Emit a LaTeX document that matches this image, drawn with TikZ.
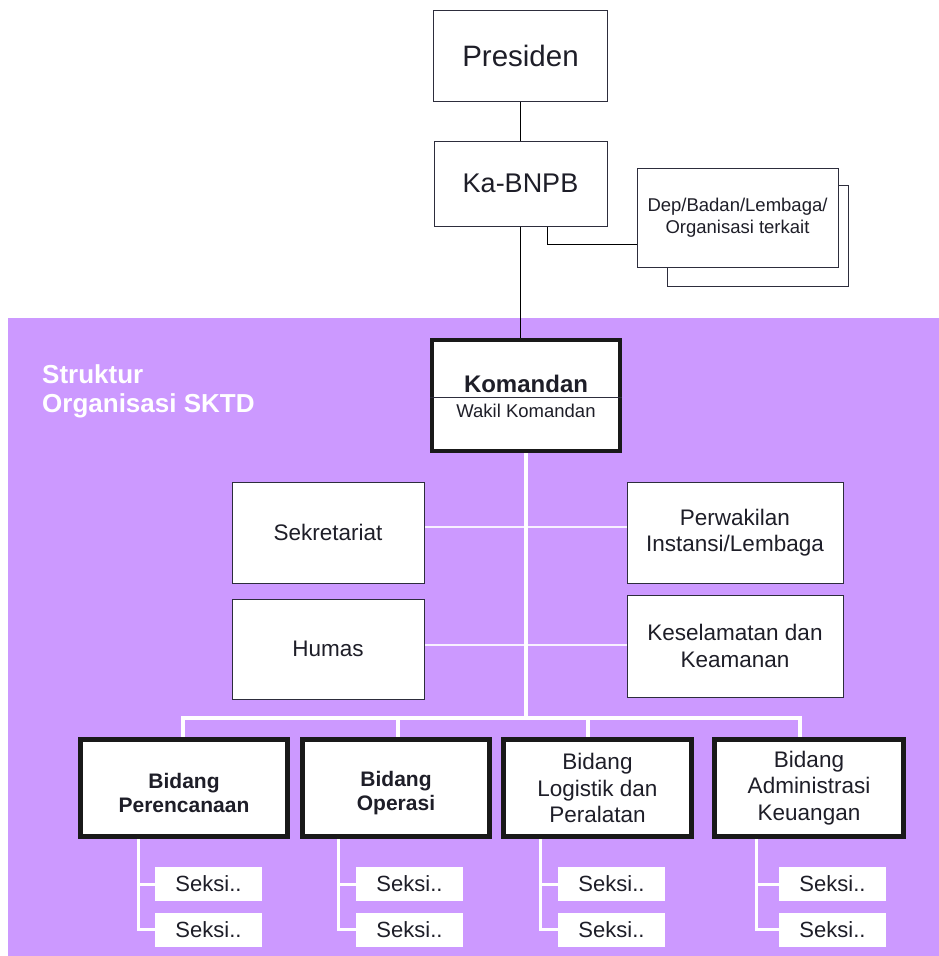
\documentclass[tikz,border=0pt]{standalone}
\usepackage{fontspec}
\setmainfont{Liberation Sans}
\usetikzlibrary{backgrounds}

\definecolor{lilac}{RGB}{204,153,255}
\definecolor{ink}{RGB}{30,30,40}
\definecolor{edge}{RGB}{45,45,60}

\begin{document}
\begin{tikzpicture}[x=1pt, y=-1pt,
  box/.style={draw=edge, line width=1pt, fill=white, align=center, inner sep=0pt, text=ink, font=\fontsize{22.5}{26.5}\selectfont},
  heavybox/.style={box, draw=black!90, line width=5pt},
  seksi/.style={fill=white, minimum width=107pt, minimum height=34pt, inner sep=0pt, text=ink, font=\fontsize{22}{26}\selectfont},
  bline/.style={draw=black, line width=1pt},
  wline/.style={draw=white, line width=4pt},
  sline/.style={draw=white, line width=3pt},
  hline/.style={draw=white!85!lilac, line width=1.5pt}]

\useasboundingbox (0,0) rectangle (939,956);

\begin{scope}[on background layer]
\fill[lilac] (8,318) rectangle (939,956);
\end{scope}

\node[box, minimum width=174pt, minimum height=91pt, font=\fontsize{29.5}{33}\selectfont] (pres) at (520.5,55.5) {Presiden};

\node[box, minimum width=173pt, minimum height=85pt, font=\fontsize{27}{31}\selectfont] (ka) at (520.5,183.5) {Ka-BNPB};

\node[box, minimum width=181pt, minimum height=101pt] (depb) at (757.5,235.5) {};

\node[box, minimum width=201pt, minimum height=99pt, font=\fontsize{18.5}{22}\selectfont] (dep) at (737.5,217.5) {Dep/Badan/Lembaga/\\Organisasi terkait};

\node[anchor=north west, align=left, inner sep=0pt, text=white, font=\bfseries\fontsize{26}{29}\selectfont] (judul) at (42,364) {Struktur\\Organisasi SKTD};

\node[box, draw=black!90, line width=4pt, minimum width=188pt, minimum height=111pt] (kom) at (526,395.5) {};

\draw[edge, line width=1pt] ([yshift=-1.5pt]kom.west) -- ([yshift=-1.5pt]kom.east);

\node[anchor=base, text=ink, font=\bfseries\fontsize{24}{27}\selectfont] (komtxt) at (526,392) {Komandan};

\node[anchor=base, text=ink, font=\fontsize{18.5}{22}\selectfont] (wakil) at (526,417) {Wakil Komandan};

\node[box, minimum width=192pt, minimum height=101pt] (sek) at (328,532.5) {Sekretariat};

\node[box, minimum width=192pt, minimum height=100pt] (hum) at (328,649) {Humas};

\node[box, minimum width=216pt, minimum height=101pt] (per) at (735,532.5) {Perwakilan\\Instansi/Lembaga};

\node[box, minimum width=216pt, minimum height=102pt] (kes) at (735,646) {Keselamatan dan\\Keamanan};

\node[heavybox, minimum width=207pt, minimum height=97pt, font=\bfseries\fontsize{21}{24}\selectfont] (bper) at (184,788) {\rule{0pt}{25pt}Bidang\\Perencanaan};

\node[heavybox, minimum width=187pt, minimum height=97pt, font=\bfseries\fontsize{21}{24}\selectfont] (bops) at (396,788) {\rule{0pt}{25pt}Bidang\\Operasi};

\node[heavybox, minimum width=188pt, minimum height=97pt] (blog) at (597.5,788) {Bidang\\Logistik dan\\Peralatan};

\node[heavybox, minimum width=189pt, minimum height=97pt] (badm) at (809,788) {Bidang\\Administrasi\\Keuangan};

\node[seksi] (sa1) at (208.5,884) {Seksi..};
\node[seksi] (sa2) at (208.5,929.5) {Seksi..};

\node[seksi] (sb1) at (409.5,884) {Seksi..};
\node[seksi] (sb2) at (409.5,929.5) {Seksi..};

\node[seksi] (sc1) at (611.5,884) {Seksi..};
\node[seksi] (sc2) at (611.5,929.5) {Seksi..};

\node[seksi] (sd1) at (832.5,884) {Seksi..};
\node[seksi] (sd2) at (832.5,929.5) {Seksi..};

\coordinate (bus) at (526,718);

\begin{scope}[on background layer]
\draw[bline] (pres.south) -- (ka.north);
\draw[bline] (ka.south) -- (ka.south |- kom.north);
\draw[bline] ([xshift=27pt]ka.south) |- ([yshift=-27pt]dep.west);

\draw[hline] ([yshift=5.5pt]sek.east) -- ([yshift=5.5pt]sek.east -| per.west);
\draw[hline] ([yshift=4pt]hum.east) -- ([yshift=4pt]hum.east -| kes.west);

\draw[wline] (kom.south) -- (bus);
\draw[wline] (bus) -| ([xshift=-1pt]bper.north);
\draw[wline] (bus) -| ([xshift=2pt]bops.north);
\draw[wline] (bus) -| ([xshift=-10pt]blog.north);
\draw[wline] (bus) -| ([xshift=-9pt]badm.north);

\draw[sline] ([xshift=-46pt]bper.south) |- (sa2.west);
\draw[sline] ([xshift=-46pt]bper.south) |- (sa1.west);

\draw[sline] ([xshift=-58pt]bops.south) |- (sb2.west);
\draw[sline] ([xshift=-58pt]bops.south) |- (sb1.west);

\draw[sline] ([xshift=-57pt]blog.south) |- (sc2.west);
\draw[sline] ([xshift=-57pt]blog.south) |- (sc1.west);

\draw[sline] ([xshift=-53pt]badm.south) |- (sd2.west);
\draw[sline] ([xshift=-53pt]badm.south) |- (sd1.west);
\end{scope}

\end{tikzpicture}
\end{document}
